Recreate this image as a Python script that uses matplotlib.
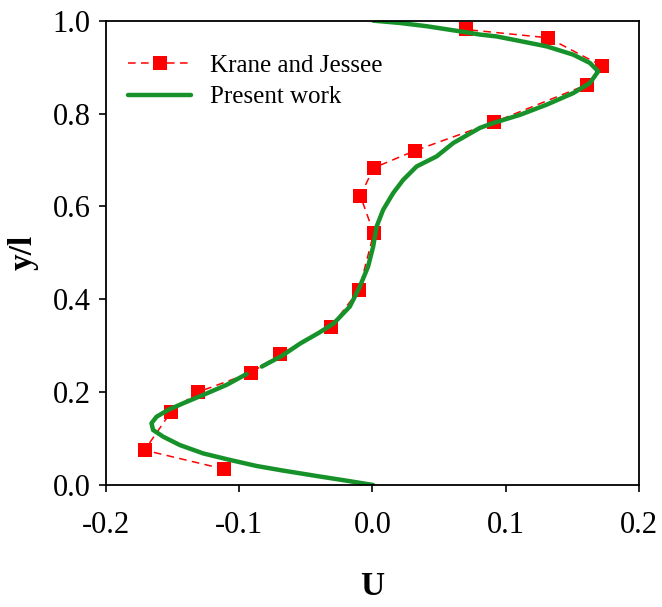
import numpy as np
import matplotlib
matplotlib.use("Agg")
import matplotlib.pyplot as plt

# Krane and Jessee measurements
kj_u = [-0.111, -0.171, -0.151, -0.131, -0.091, -0.069, -0.031, -0.010,
        0.001, -0.009, 0.001, 0.032, 0.091, 0.161, 0.172, 0.132, 0.070]
kj_y = [0.034, 0.075, 0.158, 0.200, 0.242, 0.282, 0.341, 0.420,
        0.542, 0.623, 0.683, 0.720, 0.781, 0.862, 0.903, 0.963, 0.981]

# present simulation profile (nan = break in the curve)
pw_u = [0.0006, -0.0194, -0.0419, -0.067, -0.087, -0.107, -0.127, -0.1445,
        -0.157, -0.1646, -0.1658, -0.162, -0.1533, -0.142, -0.127, -0.1095,
        -0.0944, np.nan, -0.083, -0.068, -0.054, -0.040, -0.029, -0.017,
        -0.0144, -0.0094, -0.0032, 0.0006, 0.0032, 0.0081, 0.0156, 0.0231,
        0.0332, 0.0482, 0.0607, 0.0807, 0.0907, 0.1107, 0.1308, 0.1508,
        0.1633, 0.1695, 0.1633, 0.1508, 0.1308, 0.1057, 0.0932, 0.0807,
        0.0657, 0.0407, 0.0206, 0.0006]
pw_y = [0.0, 0.0093, 0.0194, 0.031, 0.041, 0.054, 0.068, 0.086,
        0.104, 0.1185, 0.133, 0.147, 0.1616, 0.176, 0.194, 0.2155,
        0.239, np.nan, 0.255, 0.278, 0.305, 0.328, 0.348, 0.384,
        0.3987, 0.4274, 0.4705, 0.5136, 0.5567, 0.5927, 0.6286, 0.657,
        0.686, 0.7076, 0.7364, 0.769, 0.7795, 0.797, 0.819, 0.844,
        0.8657, 0.8908, 0.9088, 0.9267, 0.9446, 0.959, 0.966, 0.970,
        0.977, 0.988, 0.995, 1.0]

xticks = [-0.2, -0.1, 0.0, 0.1, 0.2]
yticks = [0.0, 0.2, 0.4, 0.6, 0.8, 1.0]

plt.rcParams['font.family'] = ['Liberation Serif', 'DejaVu Serif']

fig = plt.figure(figsize=(6.62, 6.07), dpi=100)
ax = fig.add_axes([0.160, 0.201, 0.805, 0.765])

ax.plot(kj_u, kj_y, color='#ff0000', linestyle=(0, (5, 3.5)), linewidth=1.1,
        marker='s', markersize=10, markeredgewidth=0, label='Krane and Jessee')
ax.plot(pw_u, pw_y, color='#17922a', linewidth=3.2, solid_capstyle='round',
        solid_joinstyle='round', label='Present work')

ax.set_xlim(-0.2, 0.2)
ax.set_ylim(0.0, 1.0)
ax.set_xticks(xticks)
ax.set_yticks(yticks)
ax.set_xticklabels([f"{t:.1f}" for t in xticks])
ax.set_yticklabels([f"{t:.1f}" for t in yticks])
ax.tick_params(direction='out', length=5, width=1.2, labelsize=22, pad=6)
ax.tick_params(axis='x', pad=14)
for s in ax.spines.values():
    s.set_linewidth(1.3)

ax.set_xlabel('U', fontsize=24, fontweight='bold', labelpad=22)
ax.set_ylabel('y/l', fontsize=24, fontweight='bold', labelpad=10)

ax.legend(loc='upper left', bbox_to_anchor=(0.0, 0.975), frameon=False,
          fontsize=18, handlelength=2.5, handletextpad=0.75, labelspacing=0.35)

fig.savefig('out.png', dpi=100)
